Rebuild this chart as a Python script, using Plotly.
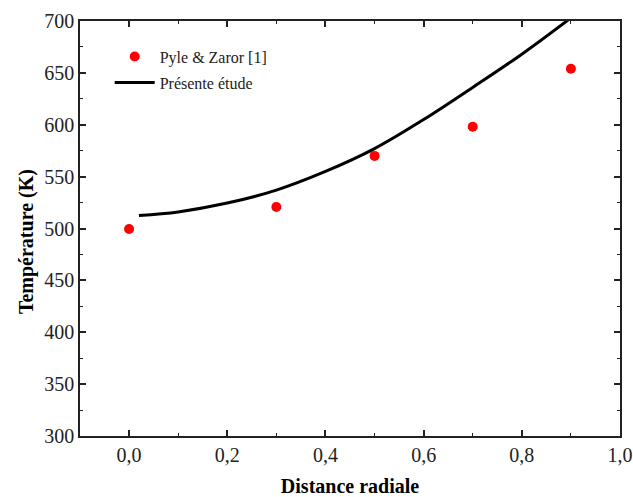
import plotly.graph_objects as go

# Data
pyle_x = [0.0, 0.3, 0.5, 0.7, 0.9]
pyle_y = [499.5, 520.7, 570.0, 598.0, 654.0]

etude_x = [0.02, 0.1, 0.2, 0.3, 0.4, 0.5, 0.6, 0.7, 0.8, 0.9]
etude_y = [512.5, 516.0, 524.5, 537.0, 555.0, 577.0, 605.0, 636.0, 668.0, 703.0]

x_ticks = [0.0, 0.2, 0.4, 0.6, 0.8, 1.0]
y_ticks = [300, 350, 400, 450, 500, 550, 600, 650, 700]

FONT = "Liberation Serif"

fig = go.Figure()
fig.add_trace(go.Scatter(
    x=pyle_x, y=pyle_y, mode="markers", name="Pyle & Zaror [1]",
    legendgroup="a",
    marker=dict(color="#ff0000", size=10, line=dict(width=0)),
))
fig.add_trace(go.Scatter(
    x=etude_x, y=etude_y, mode="lines", name="Présente étude",
    legendgroup="b",
    line=dict(color="black", width=3, shape="spline"),
))

axis_common = dict(
    showline=True, linecolor="#222", linewidth=1.5, mirror="allticks",
    ticks="inside", ticklen=6, tickwidth=1.5, tickcolor="#222",
    showgrid=False, zeroline=False, automargin=False,
    tickfont=dict(family=FONT, size=20, color="#222"),
)

fig.update_xaxes(
    range=[-0.1, 1.0], tickvals=x_ticks, tickformat=".1f",
    minor=dict(dtick=0.1, tick0=0, ticks="inside", ticklen=3, tickwidth=1.2, tickcolor="#222"),
    title=dict(text="<b>Distance radiale</b>", font=dict(family=FONT, size=20, color="black"), standoff=14),
    **axis_common,
)
fig.update_yaxes(
    range=[300, 700], tickvals=y_ticks,
    minor=dict(dtick=25, tick0=300, ticks="inside", ticklen=3, tickwidth=1.2, tickcolor="#222"),
    **axis_common,
)

fig.add_annotation(
    text="<b>Température (K)</b>", textangle=-90,
    xref="paper", yref="paper", x=-0.098, y=0.4675,
    xanchor="center", yanchor="middle", showarrow=False,
    font=dict(family=FONT, size=20, color="black"),
)

fig.update_layout(
    width=633, height=497,
    font=dict(family=FONT),
    margin=dict(l=80, r=13, t=21, b=61),
    paper_bgcolor="white", plot_bgcolor="white",
    separators=", ",
    showlegend=True,
    legend=dict(
        x=0.055, y=0.955, xanchor="left", yanchor="top",
        bgcolor="rgba(0,0,0,0)", borderwidth=0,
        font=dict(family=FONT, size=16, color="#222"),
        itemwidth=40, tracegroupgap=2, traceorder="grouped",
    ),
)

fig.write_html("out.html")
